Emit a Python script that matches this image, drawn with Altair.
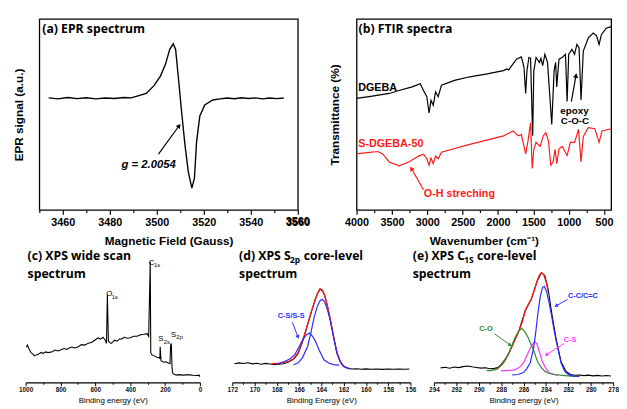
import altair as alt
import pandas as pd

# ---------------- (a) EPR spectrum ----------------
epr_field = [3454, 3458, 3462, 3466, 3470, 3474, 3478, 3482, 3486, 3489,
             3492, 3495.5, 3498.8, 3501.6, 3503.7, 3505.5, 3507.0, 3508.0, 3509.3, 3510.6,
             3512.0, 3513.4, 3514.9, 3516.0, 3516.9, 3518.3, 3520.4, 3523.8, 3527, 3530,
             3533, 3536, 3539, 3542, 3545, 3548, 3551, 3554]
epr_signal = [0.5, -0.6, 0.8, -0.3, 0.6, -0.6, 0.4, -0.2, 0.9, 0.5,
              2.5, 5, 13, 23, 35, 50, 55.7, 50, 18, -15,
              -48, -75, -91.7, -81.7, -45, -18, -6.7, -1.7, -0.5, 0.4,
              -0.4, 0.6, -0.2, 0.5, -0.5, 0.4, -0.3, 0.3]
epr_end_tick = [3560]
epr_end_label = ["3560"]

# ---------------- (b) FTIR spectra ----------------
dgeba_wn = [4000, 3800, 3539, 3400, 3215, 3100, 3054, 3007, 2975, 2948, 2915, 2883, 2846, 2800,
            2615, 2400, 2154, 1923, 1877, 1850, 1739, 1670, 1633, 1609, 1591, 1563, 1540, 1510,
            1494, 1462, 1415, 1393, 1369, 1337, 1300, 1240, 1207, 1185, 1170, 1138, 1092, 1046,
            1023, 1000, 954, 917, 885, 854, 826, 794, 723, 654, 608, 571, 538, 469, 400]
dgeba_t = [114, 116, 119, 122, 125.7, 129, 122, 115.7, 99, 112, 107, 120.7, 115.7, 127.3,
           132.3, 136, 139, 142.3, 144, 143, 154, 156.3, 146, 119, 142, 155.7, 155, 75.7,
           142, 155.7, 150.7, 155, 147.3, 159, 150.7, 87.3, 142, 150.7, 125.7, 154, 155.7, 159,
           110.7, 159, 164, 159, 169, 165.7, 112.3, 162.3, 175.7, 180.7, 178, 169, 179, 185.7, 187.3]
sdgeba_wn = [4000, 3850, 3700, 3631, 3539, 3400, 3262, 3123, 3054, 3007, 2975, 2948, 2915, 2883,
             2846, 2800, 2385, 1923, 1877, 1785, 1715, 1670, 1609, 1577, 1540, 1517, 1494, 1462,
             1406, 1360, 1323, 1286, 1254, 1221, 1194, 1170, 1138, 1092, 1055, 1023, 977, 917,
             862, 826, 794, 723, 631, 571, 529, 400]
sdgeba_t = [57.3, 58.5, 59.7, 57.3, 49, 45, 49, 55, 57, 52.3, 45.7, 53, 47.3, 55,
            52.3, 59, 67.3, 75.7, 77.3, 80.7, 75.7, 77, 57.3, 70, 89, 42.3, 62, 69,
            65, 75.7, 79, 70, 45.7, 49, 62, 47.3, 62.3, 65, 60, 55.7, 69, 69,
            82.3, 49, 75, 84, 83, 69, 80.7, 83]
ftir_left_labels = ["DGEBA", "S-DGEBA-50"]
ftir_left_wn = [3977, 3977]
ftir_left_t = [124, 67.3]
ftir_mid_labels = ["epoxy", "C-O-C", "O-H streching"]
ftir_mid_wn = [919, 912, 2546]
ftir_mid_t = [101, 90.7, 16.3]
ftir_mid_size = [10, 10, 11]

# ---------------- (c) XPS wide scan ----------------
wide_be = [996, 990, 985, 978, 968, 959, 950, 940, 925, 910, 900, 885, 870, 847, 830, 815, 800,
           780, 765, 753, 735, 720, 700, 680, 660, 640, 620, 600, 584, 570, 556, 543, 536, 531,
           525, 517, 510, 500, 491, 475, 460, 450, 435, 416, 400, 380, 360, 340, 320, 303, 294,
           285, 282, 275, 262, 247, 236, 230, 228, 223, 216, 205, 195, 182, 172, 168, 164, 160,
           157, 150, 135, 120, 100, 80, 60, 40, 20, 4, 1]
wide_cps = [35.7, 38, 36, 33, 30, 29, 27, 28, 29, 30.5, 29.5, 31, 30.3, 31.3, 33, 32, 33,
            34.5, 33.5, 34.7, 36, 35, 36, 38.5, 38, 40, 41, 43.5, 45.3, 44, 46, 43, 39.7, 89.7,
            42, 40.5, 39.7, 41, 43, 42, 44.5, 44, 46, 45, 45.5, 47, 47, 48.5, 49, 49.7, 47,
            123, 30, 28, 27, 25.7, 25, 24.5, 36.3, 22, 21.3, 20.5, 21, 19.7, 19, 38, 39.7, 15,
            9.7, 8.5, 7.3, 7.8, 7.3, 7.6, 7.6, 7.2, 7.0, 7.3, 5.7]
wide_peak_labels = ["O", "C", "S", "S"]
wide_peak_subs = ["1s", "1s", "2s", "2p"]
wide_peak_be = [537, 294, 239, 166]
wide_peak_y = [90, 122, 44, 48.7]

# ---------------- (d) XPS S2p core level ----------------
s2p_be = [171.8, 171.4, 171.0, 170.6, 170.2, 169.8, 169.4, 169.0, 168.6, 168.2, 167.8, 167.4,
          167.0, 166.5, 166.1, 165.7, 165.4, 165.1, 164.85, 164.6, 164.35, 164.12, 163.9, 163.7,
          163.45, 163.19, 162.9, 162.6, 162.3, 162.0, 161.6, 161.2, 160.8, 160.4, 160.0, 159.5,
          159.0, 158.5, 158.0, 157.5, 157.0, 156.5, 156.1]
s2p_raw = [19, 19.8, 19.2, 19.9, 18.8, 19.5, 18.4, 19.3, 18.6, 18.1, 18.4, 19,
           20.5, 23.5, 29, 41, 52, 64, 73.5, 82.5, 90.5, 95, 93.5, 88.5,
           77.5, 63.5, 46.5, 30, 21, 16, 14, 13.5, 13.8, 13.4, 13.7, 13.3,
           13.6, 13.2, 13.5, 13.3, 13.6, 13.4, 13.5]
s2p_env_be = [168.5, 167.8, 167.0, 166.5, 166.1, 165.7, 165.4, 165.1, 164.85, 164.6, 164.35,
              164.12, 163.9, 163.7, 163.45, 163.19, 162.9, 162.6, 162.3, 162.0, 161.6]
s2p_env = [19, 19.5, 21, 24, 30, 42, 53, 64.7, 74, 83, 91,
           95.7, 94, 89, 78, 64, 47, 30.5, 21.5, 16.5, 14]
s2p_c1_be = [166.5, 166.1, 165.7, 165.24, 164.95, 164.65, 164.35, 164.1, 163.92, 163.7, 163.45,
             163.19, 162.9, 162.6, 162.3, 162.0, 161.4]
s2p_c1 = [18, 19.7, 25, 36.3, 50, 66.3, 78, 83.5, 84.7, 82, 74, 63, 46, 29.7, 21, 16.3, 13.7]
s2p_c2_be = [168.0, 167.3, 166.8, 166.4, 166.0, 165.7, 165.35, 165.04, 164.75, 164.5, 164.2,
             163.77, 163.3, 162.9, 162.4]
s2p_c2 = [18.5, 21.3, 24, 28, 36, 43, 48.5, 50.3, 46.5, 41.3, 33, 23, 19.5, 18, 17.5]

# ---------------- (e) XPS C1s core level ----------------
c1s_be = [293.4, 293.0, 292.6, 292.2, 291.8, 291.4, 291.0, 290.6, 290.2, 289.8, 289.4, 289.0,
          288.6, 288.3, 288.0, 287.6, 287.3, 286.9, 286.4, 285.85, 285.3, 284.8, 284.4, 284.1,
          283.8, 283.5, 283.1, 282.65, 282.2, 281.8, 281.4, 281.0, 280.6, 280.2, 279.8, 279.4,
          279.0, 278.6, 278.2]
c1s_raw = [14.7, 15.3, 14.4, 15.6, 15.0, 16.0, 16.6, 15.8, 15.2, 14.5, 14.8, 13.8,
           14.2, 15, 18, 24, 30, 40, 53, 73, 85, 103, 112, 109,
           95, 72, 45, 21, 11, 8, 7.2, 7.5, 6.8, 7.3, 6.6, 7.1,
           6.5, 6.9, 6.4]
c1s_env_be = [288.6, 288.3, 287.9, 287.6, 287.3, 286.9, 286.4, 286.1, 285.85, 285.6, 285.3,
              285.0, 284.8, 284.6, 284.4, 284.2, 284.0, 283.8]
c1s_env = [13, 14, 19, 24, 30, 40, 53, 62, 73, 79, 85, 95, 103, 109, 112, 110, 103, 93]
cc_be = [287.0, 286.5, 286.0, 285.7, 285.4, 285.1, 284.9, 284.7, 284.5, 284.3, 284.15, 283.95,
         283.7, 283.5, 283.3, 283.1, 282.85, 282.65, 282.4, 282.2, 281.9, 281.5, 281.0]
cc_val = [7.5, 8, 10, 14, 20, 35, 52, 72, 88, 97, 98, 93, 80, 68, 55, 43, 30, 20, 13, 9.7,
          7.3, 6.3, 6]
co_be = [289.3, 289.0, 288.5, 288.2, 287.9, 287.6, 287.3, 287.0, 286.7, 286.4, 286.15, 285.9,
         285.6, 285.35, 285.1, 284.9, 284.7, 284.4, 284.1, 283.7, 283.2, 282.5, 281.8, 281.2]
co_val = [12, 12, 13, 15, 18, 23, 30, 39, 47, 53, 55, 52, 46, 39, 33, 26, 20, 15, 11.3, 9, 8,
          7, 6.3, 6]
cs_be = [288.0, 287.5, 287.0, 286.7, 286.3, 286.0, 285.75, 285.55, 285.3, 285.1, 284.95, 284.8,
         284.55, 284.35, 284.1, 283.9, 283.7, 283.3, 282.95]
cs_val = [12, 12, 12.5, 13, 16, 19.7, 26, 31.3, 37, 40.5, 41.3, 39, 29.7, 22, 16.3, 12.5, 9.7,
          8, 7]

RED = "#ff1a1a"
BLUE = "#2b2bff"
GREEN = "#2e8b2e"
MAGENTA = "#ff33ff"
TFONT = "Open Sans"
AFONT = "Liberation Sans"


def df(xs, ys, **extra):
    d = pd.DataFrame({"x": xs, "y": ys})
    for k, v in extra.items():
        d[k] = v
    return d


def cond(test, a, b):
    return {"condition": {"test": test, "value": a}, "value": b}


def top_x_axis(values, step, title):
    t = f"datum.value % {step} === 0"
    return alt.Axis(values=values, format="d", labelExpr=f"{t} ? datum.label : ''",
                    tickSize=cond(t, 4.5, 2.5), tickWidth=1.2, tickColor="black",
                    domain=False, labelFont=AFONT, labelFontSize=11, labelFontWeight="bold",
                    labelColor="black", labelPadding=2, labelFlush=False, labelOverlap=False,
                    labelBound=False, tickCount=40,
                    title=title, titleFont=AFONT, titleFontSize=12, titleFontWeight="bold",
                    titleColor="black", titlePadding=9)


def top_y_axis(title, pad):
    return alt.Axis(title=title, ticks=False, labels=False, domain=False, titleFont=AFONT,
                    titleFontSize=12, titleFontWeight="bold", titleColor="black",
                    titlePadding=pad)


def bottom_x_axis(values, step, title):
    t = f"datum.value % {step} === 0"
    return alt.Axis(values=values, format="d", labelExpr=f"{t} ? datum.label : ''",
                    tickSize=cond(t, 3.5, 2), tickWidth=1, tickColor="black",
                    domain=True, domainColor="black", domainWidth=1.2,
                    labelFont=AFONT, labelFontSize=6.5, labelFontWeight="bold",
                    labelColor="#111", labelPadding=1, labelFlush=False, labelOverlap=False,
                    labelBound=False, tickCount=40,
                    title=title, titleFont=AFONT, titleFontSize=8, titleFontWeight="normal",
                    titleColor="black", titlePadding=4)


class Panel:
    def __init__(self, xdom, ydom, xaxis, yaxis):
        self.xdom, self.ydom, self.xaxis, self.yaxis = xdom, ydom, xaxis, yaxis

    def xenc(self):
        return alt.X("x:Q", scale=alt.Scale(domain=self.xdom, nice=False, zero=False),
                     axis=self.xaxis)

    def enc(self, chart, **kw):
        return chart.encode(
            x=self.xenc(),
            y=alt.Y("y:Q", scale=alt.Scale(domain=self.ydom, nice=False, zero=False),
                    axis=self.yaxis),
            **kw)

    def line(self, xs, ys, color, sw=1.2):
        return self.enc(alt.Chart(df(xs, ys)).mark_line(color=color, strokeWidth=sw))

    def arrow(self, xs, ys, color, head_angle, sw=1.2, size=28):
        ln = self.line(xs, ys, color, sw)
        head = self.enc(alt.Chart(df([xs[-1]], [ys[-1]], a=[head_angle])).mark_point(
            shape="triangle-up", filled=True, color=color, size=size, opacity=1),
            angle=alt.Angle("a:Q", scale=None))
        return [ln, head]


def label(text, px, py, size=12.5, weight="bold", color="black", font=TFONT, align="left"):
    return alt.Chart(pd.DataFrame({"t": [text]})).mark_text(
        text=text, font=font, fontSize=size, fontWeight=weight, color=color,
        align=align, baseline="middle").encode(x=alt.value(px), y=alt.value(py))


# ---------- panel a ----------
A_X = [3450, 3560.01]
pa = Panel(A_X, [-114, 81],
           top_x_axis(list(range(3450, 3561, 10)), 20, "Magnetic Field (Gauss)"),
           top_y_axis("EPR signal (a.u.)", 14.5))
a_g = pa.enc(alt.Chart(df([3496.5], [-68], t=["g = 2.0054"])).mark_text(
    font=AFONT, fontSize=11.5, fontWeight="bold", fontStyle="italic", color="black"),
    text="t:N")
# last tick label of the field axis, which the renderer leaves out at the axis end
a_end = alt.Chart(pd.DataFrame({"x": epr_end_tick, "t": epr_end_label})).mark_text(
    font=AFONT, fontSize=11, fontWeight="bold", color="black", baseline="middle").encode(
    x=pa.xenc(), y=alt.value(195 + 4.5 + 2 + 5.5), text="t:N")
panel_a = alt.layer(
    pa.line(epr_field, epr_signal, "black", 1.4), a_g, a_end,
    *pa.arrow([3500.7, 3509.5], [-57, -28], "black", 36),
    label("(a) EPR spectrum", 3, 10),
).properties(width=264, height=195, view=alt.ViewBackground(stroke="black", strokeWidth=1.3))

# ---------- panel b ----------
pb = Panel([4000, 400], [0, 195],
           top_x_axis(list(range(500, 4001, 250)), 500, "Wavenumber (cm⁻¹)"),
           top_y_axis("Transmittance (%)", 15))
b_txt_left = pb.enc(alt.Chart(df(ftir_left_wn, ftir_left_t, t=ftir_left_labels,
                                 c=["black", RED])).mark_text(
    font=AFONT, fontSize=11, fontWeight="bold", baseline="middle", align="left"),
    text="t:N", color=alt.Color("c:N", scale=None))
b_txt_mid = pb.enc(alt.Chart(df(ftir_mid_wn, ftir_mid_t, t=ftir_mid_labels,
                                c=["black", "black", RED], s=ftir_mid_size)).mark_text(
    font=AFONT, fontWeight="bold", baseline="middle", align="center"),
    text="t:N", color=alt.Color("c:N", scale=None), size=alt.Size("s:Q", scale=None))
panel_b = alt.layer(
    pb.line(dgeba_wn, dgeba_t, "black"), pb.line(sdgeba_wn, sdgeba_t, RED),
    b_txt_left, b_txt_mid,
    *pb.arrow([963, 898], [110.7, 137.3], "black", 10),
    *pb.arrow([3054, 3225], [20.7, 42.3], RED, 330),
    label("(b) FTIR spectra", 2, 10),
).properties(width=260, height=195, view=alt.ViewBackground(stroke="black", strokeWidth=1.3))

BH = 135  # bottom panel plot height

# ---------- panel c ----------
pc = Panel([1000, 0], [0, BH],
           bottom_x_axis(list(range(0, 1001, 100)), 200, "Binding energy (eV)"), None)
c_lab = alt.Chart(df(wide_peak_be, wide_peak_y, t=wide_peak_labels, s=wide_peak_subs))
c_main = pc.enc(c_lab.mark_text(font=AFONT, fontSize=8, align="left", baseline="middle",
                                color="black"), text="t:N")
c_sub = pc.enc(c_lab.mark_text(font=AFONT, fontSize=6, align="left", baseline="middle",
                               dx=5.5, dy=2.5, color="black"), text="s:N")
panel_c = alt.layer(
    pc.line(wide_be, wide_cps, "black", 1.1), c_main, c_sub,
    label("(c) XPS wide scan", 2, 6),
    label("spectrum", 2, 24),
).properties(width=178, height=BH)

# ---------- panel d ----------
pd_ = Panel([172, 156], [0, BH],
            bottom_x_axis(list(range(156, 173)), 2, "Binding Energy (eV)"), None)
d_t = pd_.enc(alt.Chart(df([166.7], [68], t=["C-S/S-S"])).mark_text(
    font=AFONT, fontSize=7.5, fontWeight="bold", color=BLUE), text="t:N")
panel_d = alt.layer(
    pd_.line(s2p_be, s2p_raw, "black", 1.1),
    pd_.line(s2p_env_be, s2p_env, RED, 1.3),
    pd_.line(s2p_c1_be, s2p_c1, BLUE, 1.2),
    pd_.line(s2p_c2_be, s2p_c2, BLUE, 1.2),
    d_t,
    *pd_.arrow([166.6, 166.1], [61.3, 46.3], BLUE, 159, sw=1, size=18),
    label("(d) XPS S", 7, 6),
    label("2p", 59, 10, size=8.5),
    label("core-level", 73, 6),
    label("spectrum", 7, 24),
).properties(width=182, height=BH)

# ---------- panel e ----------
pe = Panel([294, 278], [0, BH],
           bottom_x_axis(list(range(278, 295)), 2, "Binding energy (eV)"), None)
e_t = pe.enc(alt.Chart(df([289.35, 281.85, 280.7], [54.7, 43, 88], t=["C-O", "C-S", "C-C/C=C"],
                          c=[GREEN, MAGENTA, BLUE])).mark_text(
    font=AFONT, fontSize=7.5, fontWeight="bold"),
    text="t:N", color=alt.Color("c:N", scale=None))
panel_e = alt.layer(
    pe.line(c1s_be, c1s_raw, "black", 1.1),
    pe.line(c1s_env_be, c1s_env, RED, 1.3),
    pe.line(cs_be, cs_val, MAGENTA),
    pe.line(co_be, co_val, GREEN),
    pe.line(cc_be, cc_val, BLUE),
    e_t,
    *pe.arrow([288.6, 287.2], [49.7, 38], GREEN, 125, sw=1, size=18),
    *pe.arrow([282.36, 283.96], [39.7, 28], MAGENTA, 237, sw=1, size=18),
    *pe.arrow([282.07, 283.1], [84.7, 78], BLUE, 240, sw=1, size=18),
    label("(e) XPS C", -21.6, 6),
    label("1S", 31, 10, size=8.5),
    label("core-level", 44, 6),
    label("spectrum", -21.6, 24),
).properties(width=183, height=BH)


def spacer(w, h):
    return alt.Chart(pd.DataFrame({"x": [0], "y": [0]})).mark_point(opacity=0).encode(
        x=alt.X("x:Q", axis=None), y=alt.Y("y:Q", axis=None)).properties(width=w, height=h)


top_row = alt.hconcat(spacer(13.3, 195), panel_a, spacer(60, 195), panel_b,
                      spacing=0, bounds="flush")
bottom_row = alt.hconcat(panel_c, spacer(32.6, BH), panel_d, spacer(23.3, BH), panel_e,
                         spacing=0, bounds="flush")

chart = alt.vconcat(top_row, bottom_row, spacing=2).properties(
    padding={"left": 3, "top": 6, "right": 0, "bottom": 0}
).configure_view(strokeWidth=0).configure_axis(grid=False)

chart.save("out.html", embed_options={"renderer": "svg", "actions": False})
